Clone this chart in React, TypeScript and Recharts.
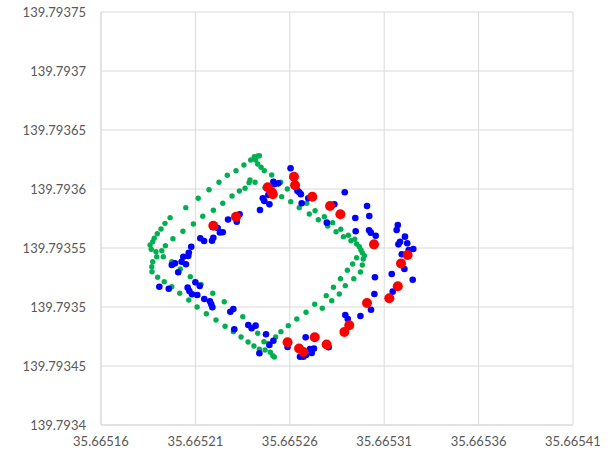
import { CartesianGrid, Scatter, ScatterChart, XAxis, YAxis } from "recharts";

// longitude / latitude pairs
const greenPoints: [number, number][] = [
  [35.665186, 139.7935526], [35.6651874, 139.7935553], [35.6651882, 139.7935582], [35.6651898, 139.7935621],
  [35.6651918, 139.7935661], [35.6651939, 139.7935709], [35.6651966, 139.7935757], [35.6652049, 139.7935842],
  [35.6652115, 139.7935921], [35.6652172, 139.7935994], [35.6652225, 139.7936057], [35.6652269, 139.7936116],
  [35.6652315, 139.7936155], [35.6652357, 139.7936204], [35.6652393, 139.7936246], [35.6652412, 139.7936274],
  [35.665243, 139.793628], [35.6652439, 139.7936282], [35.6652419, 139.7936246], [35.665243, 139.7936212],
  [35.6652448, 139.7936184], [35.6652465, 139.7936155], [35.6652504, 139.7936119],
  [35.6651866, 139.7935489], [35.6651891, 139.7935469], [35.6651922, 139.7935477], [35.6651941, 139.793552],
  [35.6651981, 139.7935579], [35.6652034, 139.7935642], [35.6652089, 139.7935703], [35.6652139, 139.7935769],
  [35.6652195, 139.793582], [35.6652245, 139.7935879], [35.6652294, 139.7935941], [35.6652333, 139.7935983],
  [35.6652363, 139.7936006], [35.6652384, 139.7936054], [35.6652389, 139.7936076], [35.6652416, 139.7936057],
  [35.6652469, 139.7936011],
  [35.6652552, 139.7936057], [35.6652557, 139.7935935], [35.6652587, 139.7936], [35.6652605, 139.7935893],
  [35.665265, 139.7935842], [35.665269, 139.7935879], [35.6652703, 139.7935788], [35.6652734, 139.7935816],
  [35.6652751, 139.793574], [35.6652783, 139.7935765], [35.6652801, 139.7935687], [35.6652827, 139.7935715],
  [35.6652845, 139.7935638], [35.665287, 139.7935659], [35.6652884, 139.7935596], [35.665291, 139.7935608],
  [35.6652924, 139.7935562], [35.6652944, 139.7935574], [35.6652954, 139.7935534], [35.6652968, 139.7935511],
  [35.6652977, 139.7935483], [35.6652984, 139.793546], [35.6652995, 139.7935435], [35.6652954, 139.7935418],
  [35.6652989, 139.7935407], [35.6652933, 139.7935364], [35.6652984, 139.7935356], [35.6652905, 139.7935311],
  [35.6652974, 139.7935297], [35.6652868, 139.793524], [35.6652939, 139.793524], [35.6652831, 139.7935167],
  [35.6652894, 139.7935181], [35.6652862, 139.793511], [35.6652822, 139.7935053], [35.6652793, 139.7935096],
  [35.6652772, 139.7934989], [35.6652732, 139.7935023], [35.6652686, 139.7934955], [35.6652637, 139.7934898],
  [35.6652592, 139.7934842], [35.6652553, 139.7934791], [35.6652525, 139.7934746],
  [35.6651874, 139.7935384], [35.6651895, 139.7935426], [35.665193, 139.7935426], [35.6651869, 139.7935342],
  [35.665187, 139.7935299], [35.66519, 139.7935252], [35.6651935, 139.7935214], [35.6651975, 139.7935172],
  [35.6652017, 139.7935116], [35.6652065, 139.7935059], [35.6652109, 139.7935], [35.6652158, 139.7934943],
  [35.6652209, 139.793489], [35.6652257, 139.7934837], [35.6652301, 139.7934791], [35.6652342, 139.7934746],
  [35.6652379, 139.7934703], [35.665241, 139.793467], [35.6652439, 139.7934642], [35.6652463, 139.7934706],
  [35.6652486, 139.7934692], [35.6652469, 139.7934636], [35.6652497, 139.7934616], [35.665251, 139.7934587],
  [35.6652518, 139.7934576],
  [35.6651975, 139.7935384], [35.665202, 139.7935322], [35.6652073, 139.7935257], [35.665213, 139.7935192],
  [35.6652192, 139.7935116], [35.6652253, 139.7935045], [35.6652351, 139.7934918], [35.665243, 139.7934777],
];

const bluePoints: [number, number][] = [
  [35.6652604, 139.7936176], [35.6652513, 139.7936062], [35.6652539, 139.7936048], [35.6652518, 139.793604],
  [35.6652486, 139.7935949], [35.6652457, 139.7935921], [35.6652465, 139.7935898], [35.6652492, 139.793587],
  [35.6652442, 139.7935822], [35.665264, 139.7935986], [35.665265, 139.7935972], [35.6652659, 139.7935955],
  [35.6652663, 139.7935879], [35.6652698, 139.7935921], [35.6652796, 139.7935715], [35.6652836, 139.793587],
  [35.6652891, 139.7935972], [35.6653009, 139.7935856], [35.6653021, 139.7935771], [35.6652947, 139.7935754],
  [35.6652949, 139.7935642], [35.665302, 139.793565], [35.6653029, 139.793563], [35.6653055, 139.7935604],
  [35.6653172, 139.7935695], [35.6653166, 139.7935653], [35.665321, 139.7935596], [35.6653184, 139.7935553],
  [35.6653175, 139.7935531], [35.6653222, 139.793554], [35.6653254, 139.7935492], [35.665323, 139.7935483],
  [35.6653193, 139.7935447],
  [35.6652334, 139.7935786], [35.6652319, 139.7935723], [35.6652273, 139.7935742], [35.6652218, 139.793567],
  [35.6652245, 139.7935633], [35.665223, 139.7935631], [35.6652195, 139.7935587], [35.6652188, 139.7935562],
  [35.6652126, 139.7935582], [35.6652146, 139.7935559], [35.6652078, 139.7935511], [35.6652065, 139.793546],
  [35.6652062, 139.7935432], [35.6652036, 139.7935426], [35.6651992, 139.793537], [35.6651975, 139.7935356],
  [35.6652027, 139.7935384], [35.665205, 139.7935362], [35.6652009, 139.7935294], [35.6651909, 139.7935172],
  [35.6651959, 139.7935155], [35.66521, 139.7935209], [35.6652123, 139.7935178], [35.6652059, 139.7935164],
  [35.6652068, 139.7935136], [35.6652082, 139.7935108], [35.665211, 139.7935102], [35.6652147, 139.7935068],
  [35.6652177, 139.7935048], [35.6652184, 139.7935023], [35.665219, 139.7934998], [35.6652285, 139.793496],
  [35.6652301, 139.7934983], [35.6652306, 139.7934811],
  [35.665238, 139.7934848], [35.6652398, 139.793482], [35.6652419, 139.7934842], [35.6652474, 139.7934769],
  [35.6652513, 139.7934714], [35.6652492, 139.7934678], [35.6652439, 139.7934608], [35.6652588, 139.7934661],
  [35.6652684, 139.7934743], [35.6652654, 139.7934579], [35.6652672, 139.7934579], [35.6652686, 139.7934593],
  [35.6652707, 139.7934644], [35.6652728, 139.7934648], [35.6652716, 139.793461], [35.6652806, 139.7934659],
  [35.6652894, 139.7934932], [35.6652907, 139.7934898], [35.6652974, 139.7934924], [35.665303, 139.7934977],
  [35.6653048, 139.793511], [35.6653051, 139.7935252], [35.665314, 139.793528], [35.6653145, 139.793513],
  [35.6653207, 139.7935322], [35.6653251, 139.7935231],
];

const redPoints: [number, number][] = [
  [35.6652195, 139.7935689], [35.6652315, 139.7935765], [35.6652483, 139.7936015], [35.6652505, 139.7935972],
  [35.665251, 139.7935955], [35.6652622, 139.7936104], [35.6652628, 139.7936032], [35.6652719, 139.7935935],
  [35.6652813, 139.7935856], [35.6652868, 139.7935786], [35.6653046, 139.7935531], [35.6653224, 139.7935441],
  [35.6653189, 139.7935369], [35.6653172, 139.7935176], [35.6653127, 139.7935074], [35.6653009, 139.7935034],
  [35.6652915, 139.7934845], [35.6652889, 139.7934788], [35.6652795, 139.7934682], [35.6652732, 139.7934743],
  [35.6652672, 139.7934619], [35.6652649, 139.7934648], [35.6652588, 139.7934701],
];

const xTicks = [35.66516, 35.66521, 35.66526, 35.66531, 35.66536, 35.66541];
const yTicks = [139.7934, 139.79345, 139.7935, 139.79355, 139.7936, 139.79365, 139.7937, 139.79375];

const toRows = (pts: [number, number][]) => pts.map(([lng, lat]) => ({ lng, lat }));

const dot = (r: number, fill: string) => (props: any) =>
  <circle cx={props.cx} cy={props.cy} r={r} fill={fill} />;

const tickStyle = { fill: "#595959", fontSize: 13, fontFamily: "Lato, sans-serif" };

export default function App() {
  return (
    <div style={{ position: "absolute", left: 0, top: 0, width: 614, height: 454, background: "#fff" }}>
      <ScatterChart width={614} height={454} margin={{ top: 12, right: 41, bottom: 0, left: 0 }}>
        <CartesianGrid stroke="#d9d9d9" horizontalValues={yTicks} verticalValues={xTicks} />
        <XAxis
          type="number"
          dataKey="lng"
          domain={[35.66516, 35.66541]}
          ticks={xTicks}
          tickFormatter={(v) => String(v)}
          height={29}
          tick={tickStyle}
          tickLine={false}
          tickSize={0}
          tickMargin={12}
          axisLine={{ stroke: "#d9d9d9" }}
          allowDataOverflow
        />
        <YAxis
          type="number"
          dataKey="lat"
          domain={[139.7934, 139.79375]}
          ticks={yTicks}
          tickFormatter={(v) => String(v)}
          width={101}
          tick={tickStyle}
          tickLine={false}
          tickSize={0}
          tickMargin={15}
          axisLine={{ stroke: "#d9d9d9" }}
          allowDataOverflow
        />
        <Scatter data={toRows(greenPoints)} shape={dot(2.7, "#00b050")} isAnimationActive={false} />
        <Scatter data={toRows(bluePoints)} shape={dot(3.3, "#0000ff")} isAnimationActive={false} />
        <Scatter data={toRows(redPoints)} shape={dot(5, "#ff0000")} isAnimationActive={false} />
      </ScatterChart>
    </div>
  );
}
